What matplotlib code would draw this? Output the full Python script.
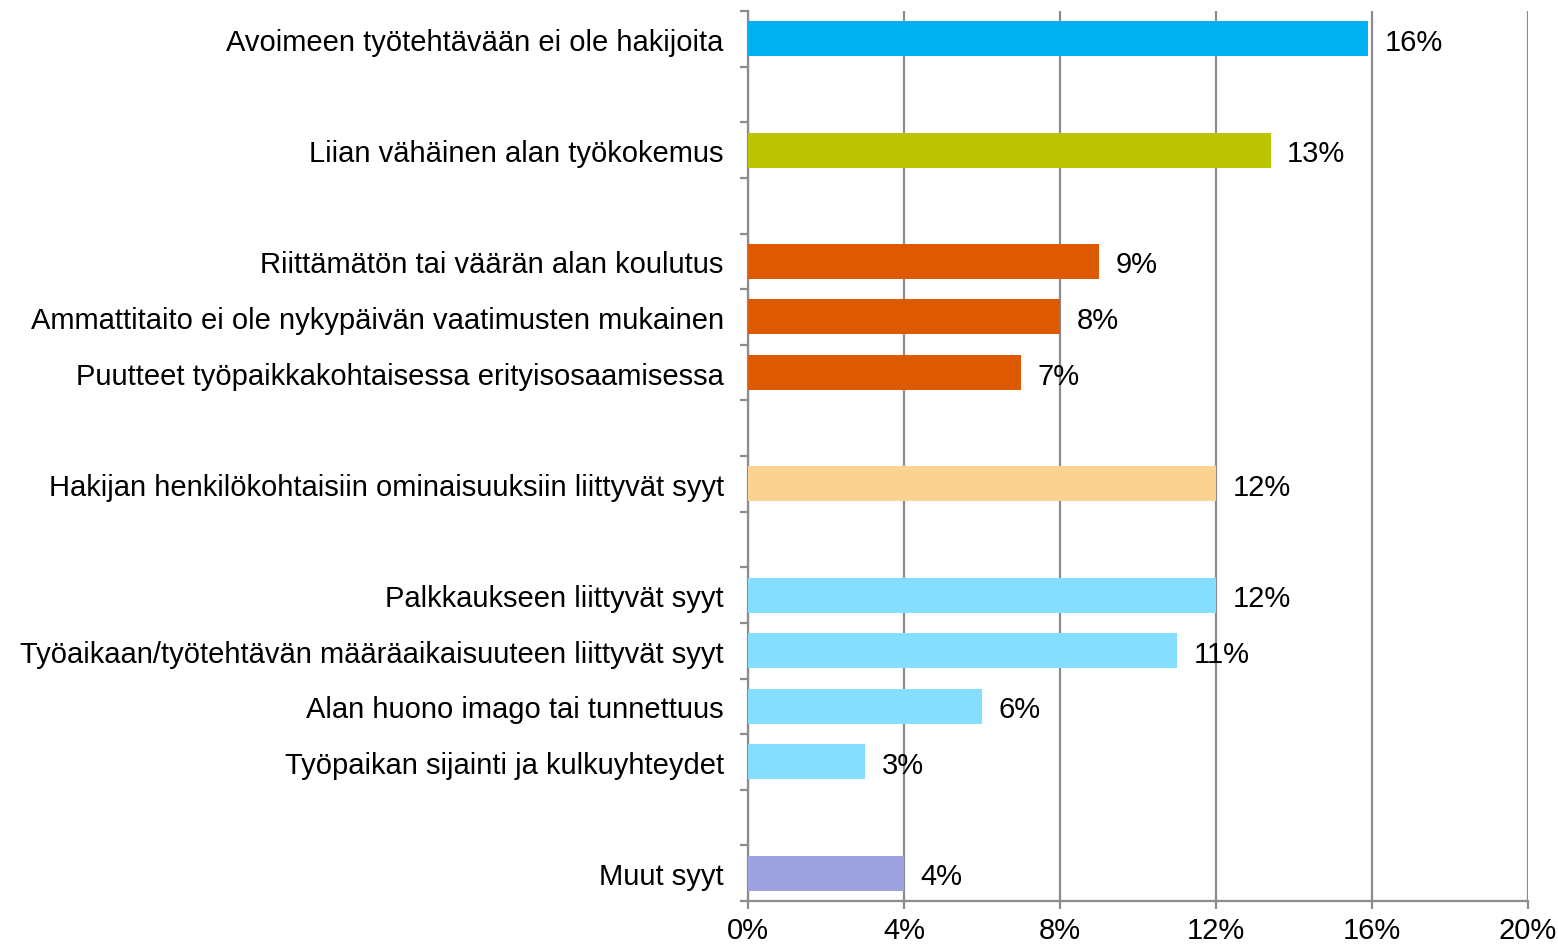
import numpy as np
import matplotlib.pyplot as plt
from matplotlib.ticker import FixedLocator, PercentFormatter

plt.rcParams['font.family'] = ['Liberation Sans', 'DejaVu Sans']

# slot order from top; None = empty gap row
categories = [
    "Avoimeen työtehtävään ei ole hakijoita",
    None,
    "Liian vähäinen alan työkokemus",
    None,
    "Riittämätön tai väärän alan koulutus",
    "Ammattitaito ei ole nykypäivän vaatimusten mukainen",
    "Puutteet työpaikkakohtaisessa erityisosaamisessa",
    None,
    "Hakijan henkilökohtaisiin ominaisuuksiin liittyvät syyt",
    None,
    "Palkkaukseen liittyvät syyt",
    "Työaikaan/työtehtävän määräaikaisuuteen liittyvät syyt",
    "Alan huono imago tai tunnettuus",
    "Työpaikan sijainti ja kulkuyhteydet",
    None,
    "Muut syyt",
]
values = [15.9, None, 13.4, None, 9.0, 8.0, 7.0, None, 12.0, None, 12.0, 11.0, 6.0, 3.0, None, 4.0]
labels = ["16%", None, "13%", None, "9%", "8%", "7%", None, "12%", None, "12%", "11%", "6%", "3%", None, "4%"]
colors = ["#00B0F0", None, "#BBC400", None, "#DD5A00", "#DD5A00", "#DD5A00", None,
          "#FAD393", None, "#84DEFF", "#84DEFF", "#84DEFF", "#84DEFF", None, "#9EA3E0"]

fs = 21

fig = plt.figure(figsize=(15.58, 9.45), dpi=100)
ax = fig.add_axes([0.4801, 0.0455, 0.5007, 0.9418])

n = len(categories)
ax.set_ylim(n, 0)
ax.set_xlim(0, 20)

for i in range(n):
    if values[i] is None:
        continue
    ax.barh(i + 0.5, values[i], height=0.63, color=colors[i], zorder=3)
    ax.text(values[i] + 0.42, i + 0.5, labels[i], va='center_baseline', ha='left', fontsize=fs, zorder=4)
    ax.text(-0.62, i + 0.5, categories[i], va='center_baseline', ha='right', fontsize=fs)

ax.set_xticks(np.arange(0, 21, 4))
ax.xaxis.set_major_formatter(PercentFormatter(decimals=0))
ax.yaxis.set_major_locator(FixedLocator(np.arange(0, n + 1)))
ax.set_yticklabels([])

ax.grid(axis='x', color='#8C8C8C', linewidth=1.6, zorder=0)
for side in ['top', 'right']:
    ax.spines[side].set_visible(False)
for side in ['left', 'bottom']:
    ax.spines[side].set_color('#8C8C8C')
    ax.spines[side].set_linewidth(1.6)
ax.tick_params(axis='y', length=6, width=1.6, color='#8C8C8C', direction='out')
ax.tick_params(axis='x', length=6, width=1.6, color='#8C8C8C', direction='out', labelsize=fs, pad=5)

fig.savefig("out.png", dpi=100, facecolor='white')
